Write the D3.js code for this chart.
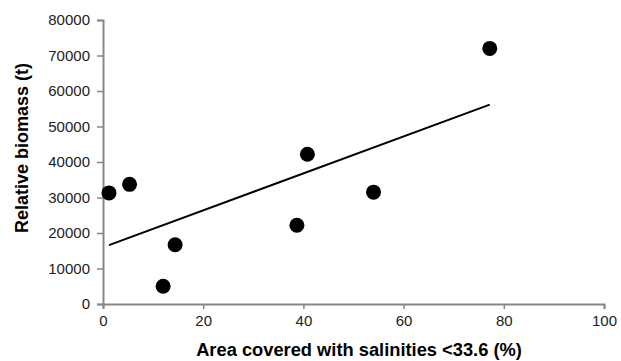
<!DOCTYPE html>
<html>
<head>
<meta charset="utf-8">
<script src="https://cdn.jsdelivr.net/npm/d3@7"></script>
<style>
  body { margin: 0; background: #fff; }
  text { font-family: "Liberation Sans", Arial, sans-serif; }
</style>
</head>
<body>
<div id="chart"></div>
<script>
// area covered with low salinity (%) and relative biomass (t)
const areaPct = [1.2, 5.3, 12.0, 14.4, 38.7, 40.8, 54.0, 77.2];
const biomass = [31300, 33700, 5000, 16700, 22200, 42200, 31500, 72000];
const xTicks = [0, 20, 40, 60, 80, 100];
const yTicks = [0, 10000, 20000, 30000, 40000, 50000, 60000, 70000, 80000];

const W = 621, H = 361;
const margin = { top: 20, right: 17, bottom: 57, left: 103 };

const svg = d3.select("#chart").append("svg")
  .attr("width", W)
  .attr("height", H);

const x = d3.scaleLinear().domain([0, 100]).range([margin.left, W - margin.right]);
const y = d3.scaleLinear().domain([0, 80000]).range([H - margin.bottom, margin.top]);

const axisColor = "#878787";

const xAxis = svg.append("g")
  .attr("transform", `translate(0,${H - margin.bottom})`)
  .call(d3.axisBottom(x).tickValues(xTicks).tickSize(5).tickPadding(6).tickFormat(d3.format("d")));

const yAxis = svg.append("g")
  .attr("transform", `translate(${margin.left},0)`)
  .call(d3.axisLeft(y).tickValues(yTicks).tickSize(6).tickPadding(7).tickFormat(d3.format("d")));

[xAxis, yAxis].forEach(g => {
  g.select(".domain").attr("stroke", axisColor).attr("stroke-width", 2);
  g.selectAll(".tick line").attr("stroke", axisColor).attr("stroke-width", 1.5);
  g.selectAll(".tick text")
    .attr("fill", "#222")
    .style("font-size", "15px")
    .style("font-family", "'Liberation Sans', Arial, sans-serif");
});

// linear trend line (least squares)
const n = areaPct.length;
const mx = d3.mean(areaPct), my = d3.mean(biomass);
let sxy = 0, sxx = 0;
for (let i = 0; i < n; i++) {
  sxy += (areaPct[i] - mx) * (biomass[i] - my);
  sxx += (areaPct[i] - mx) ** 2;
}
const slope = sxy / sxx;
const intercept = my - slope * mx;
const x0 = d3.min(areaPct), x1 = d3.max(areaPct);

svg.append("line")
  .attr("x1", x(x0)).attr("y1", y(intercept + slope * x0))
  .attr("x2", x(x1)).attr("y2", y(intercept + slope * x1))
  .attr("stroke", "#000")
  .attr("stroke-width", 2);

svg.selectAll("circle")
  .data(areaPct.map((a, i) => ({ a, b: biomass[i] })))
  .enter()
  .append("circle")
  .attr("cx", d => x(d.a))
  .attr("cy", d => y(d.b))
  .attr("r", 7.5)
  .attr("fill", "#000");

// axis titles
svg.append("text")
  .attr("x", 359)
  .attr("y", 356)
  .attr("text-anchor", "middle")
  .style("font-size", "18.3px")
  .style("font-weight", "bold")
  .text("Area covered with salinities <33.6 (%)");

svg.append("text")
  .attr("transform", "translate(28,148) rotate(-90)")
  .attr("text-anchor", "middle")
  .style("font-size", "18px")
  .style("font-weight", "bold")
  .text("Relative biomass (t)");
</script>
</body>
</html>
